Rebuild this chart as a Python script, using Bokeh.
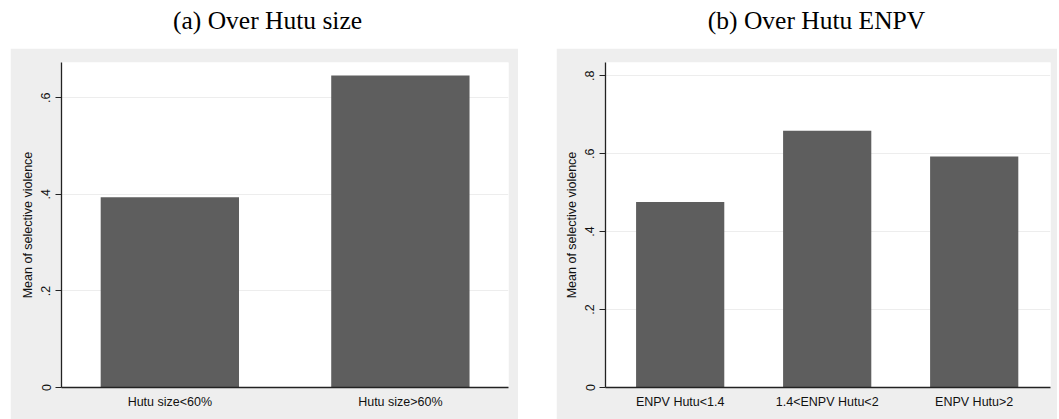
from bokeh.plotting import figure
from bokeh.models import Range1d, FixedTicker, Label
from bokeh.layouts import row, column
from bokeh.embed import file_html
from bokeh.resources import INLINE

# ---- data ----
title_a = "(a) Over Hutu size"
title_b = "(b) Over Hutu ENPV"
cats_a = ["Hutu size<60%", "Hutu size>60%"]
vals_a = [0.394, 0.646]
cats_b = ["ENPV Hutu<1.4", "1.4<ENPV Hutu<2", "ENPV Hutu>2"]
vals_b = [0.476, 0.659, 0.593]
yticks_a = [0, 0.2, 0.4, 0.6]
ylabels_a = ["0", ".2", ".4", ".6"]
yticks_b = [0, 0.2, 0.4, 0.6, 0.8]
ylabels_b = ["0", ".2", ".4", ".6", ".8"]
ylabel = "Mean of selective violence"

GRAY_BG = "#eeeeee"
BAR = "#5e5e5e"
SANS = "Liberation Sans"
SERIF = "Liberation Serif"


def title_fig(text, w, cx, ml, mr):
    t = figure(width=w, height=48, toolbar_location=None, output_backend="svg",
               x_range=Range1d(0, 1), y_range=Range1d(0, 1),
               x_axis_location=None, y_axis_location=None,
               min_border=0, margin=(0, mr, 0, ml))
    t.grid.visible = False
    t.outline_line_color = None
    t.border_fill_color = "white"
    t.background_fill_color = "white"
    t.add_layout(Label(x=cx, y=28, x_units="screen", y_units="screen", text=text,
                       text_align="center", text_baseline="middle",
                       text_font=SERIF, text_font_size="25.5px", text_color="black"))
    return t


def panel(cats, vals, yticks, ylabels, ymax, xr, w, mb_left, mb_right, ml, mr):
    xs = list(range(len(cats)))
    p = figure(width=w, height=371, toolbar_location=None, output_backend="svg",
               x_range=Range1d(*xr), y_range=Range1d(0, ymax),
               min_border_left=mb_left, min_border_right=mb_right,
               min_border_top=14, min_border_bottom=32, margin=(0, mr, 0, ml))
    p.vbar(x=xs, top=vals, width=0.6, bottom=0, fill_color=BAR, line_color=None)
    p.border_fill_color = GRAY_BG
    p.background_fill_color = "white"
    p.outline_line_color = None

    p.xgrid.visible = False
    p.ygrid.ticker = FixedTicker(ticks=yticks)
    p.ygrid.grid_line_color = "#ededed"
    p.ygrid.grid_line_width = 1

    xa = p.xaxis[0]
    xa.ticker = FixedTicker(ticks=xs)
    xa.major_label_overrides = {x: c for x, c in zip(xs, cats)}
    xa.major_tick_line_color = None
    xa.minor_tick_line_color = None
    xa.major_tick_out = 0
    xa.major_label_standoff = 7
    xa.major_label_text_font = SANS
    xa.major_label_text_font_size = "12.5px"
    xa.major_label_text_color = "#111111"
    xa.axis_line_color = "#222222"
    xa.axis_line_width = 1.3

    ya = p.yaxis[0]
    ya.ticker = FixedTicker(ticks=yticks)
    ya.major_label_overrides = {t: l for t, l in zip(yticks, ylabels)}
    ya.major_label_orientation = "vertical"
    ya.minor_tick_line_color = None
    ya.major_tick_out = 6
    ya.major_tick_in = 0
    ya.major_tick_line_color = "#222222"
    ya.major_label_standoff = 5
    ya.major_label_text_font = SANS
    ya.major_label_text_font_size = "12.5px"
    ya.major_label_text_color = "#111111"
    ya.axis_line_color = "#222222"
    ya.axis_line_width = 1.3
    ya.axis_label = ylabel
    ya.axis_label_text_font = SANS
    ya.axis_label_text_font_size = "12.5px"
    ya.axis_label_text_font_style = "normal"
    ya.axis_label_text_color = "#111111"
    ya.axis_label_standoff = 4
    return p


pa = panel(cats_a, vals_a, yticks_a, ylabels_a, 0.673, (-0.470, 1.469), 508, 51, 10, 10, 38)
pb = panel(cats_b, vals_b, yticks_b, ylabels_b, 0.834, (-0.508, 2.519), 501, 49, 7, 0, 2)
# the column aligns the title figure's frame with the panel frame below it,
# so the screen x of the title is measured from the panel's plot-area edge
ta = title_fig(title_a, 508, 206, 10, 38)
tb = title_fig(title_b, 501, 211, 0, 2)

layout = row(column(ta, pa), column(tb, pb))
open("out.html", "w").write(file_html(layout, INLINE))
